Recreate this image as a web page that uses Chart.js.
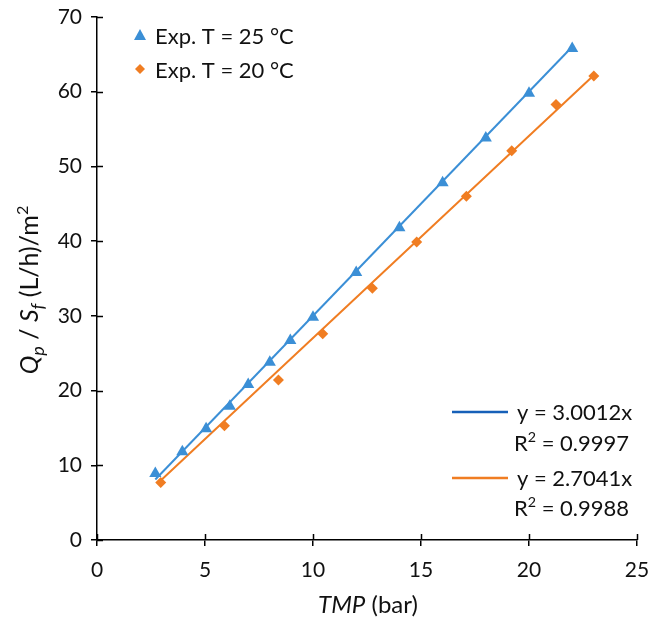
<!DOCTYPE html>
<html lang="en">
<head>
    <meta charset="UTF-8">
    <title>Flux vs TMP</title>
    <style>
        body {
            margin: 0;
            padding: 0;
            background: #fff;
        }
        #wrap {
            width: 649px;
            height: 619px;
            position: relative;
        }
    </style>
    <script src="https://cdn.jsdelivr.net/npm/chart.js"></script>
</head>
<body>
    <div id="wrap">
        <canvas id="fluxChart" width="649" height="619"></canvas>
    </div>
    <script>
        const tmp25 = [2.7, 3.95, 5.05, 6.15, 7.0, 8.0, 8.95, 10.0, 12.0, 14.0, 16.0, 18.0, 20.0, 22.0];
        const flux25 = [8.9, 11.8, 14.9, 17.9, 20.8, 23.8, 26.7, 29.8, 35.8, 41.8, 47.8, 53.8, 59.8, 65.8];
        const tmp20 = [2.95, 5.9, 8.4, 10.45, 12.75, 14.8, 17.1, 19.2, 21.25, 23.0];
        const flux20 = [7.7, 15.3, 21.4, 27.6, 33.7, 39.9, 46.0, 52.1, 58.3, 62.1];

        // Linear fits through origin, as printed on the chart
        const slope25 = 3.0012;
        const slope20 = 2.7041;
        const r2_25 = '0.9997';
        const r2_20 = '0.9988';

        const seriesLabels = ['Exp. T = 25 °C', 'Exp. T = 20 °C'];
        const xTicks = [0, 5, 10, 15, 20, 25];
        const yTicks = [0, 10, 20, 30, 40, 50, 60, 70];

        const BLUE = '#3b8fd6';
        const BLUE_DARK = '#1660b8';
        const ORANGE = '#f07d22';
        const TEXT = '#111';
        const FONT = 'Lato, "Open Sans", sans-serif';

        function toPoints(xs, ys) {
            return xs.map((x, i) => ({ x: x, y: ys[i] }));
        }
        function fitLine(xs, k) {
            const lo = Math.min(...xs), hi = Math.max(...xs);
            return [{ x: lo, y: k * lo }, { x: hi, y: k * hi }];
        }

        // draws a run of [text, style] pieces starting at x,y
        function drawRun(ctx, parts, x, y, size) {
            parts.forEach(p => {
                const s = p.sub ? size * 0.72 : p.sup ? size * 0.65 : size;
                ctx.font = (p.italic ? 'italic ' : '') + s + 'px ' + FONT;
                let dy = 0;
                if (p.sub) dy = size * 0.22;
                if (p.sup) dy = -size * 0.4;
                ctx.fillText(p.t, x, y + dy);
                x += ctx.measureText(p.t).width;
            });
        }
        function runWidth(ctx, parts, size) {
            let w = 0;
            parts.forEach(p => {
                const s = p.sub ? size * 0.72 : p.sup ? size * 0.65 : size;
                ctx.font = (p.italic ? 'italic ' : '') + s + 'px ' + FONT;
                w += ctx.measureText(p.t).width;
            });
            return w;
        }

        const decorPlugin = {
            id: 'decor',
            afterDraw(chart) {
                const ctx = chart.ctx;
                const xs = chart.scales.x, ys = chart.scales.y;
                ctx.save();
                // inner half of the cross ticks
                ctx.strokeStyle = '#000';
                ctx.lineWidth = 1.5;
                ctx.beginPath();
                xTicks.forEach(v => {
                    const px = Math.round(xs.getPixelForValue(v)) + 0.5;
                    ctx.moveTo(px, ys.bottom);
                    ctx.lineTo(px, ys.bottom - 6);
                });
                yTicks.forEach(v => {
                    const py = Math.round(ys.getPixelForValue(v)) + 0.5;
                    ctx.moveTo(xs.left, py);
                    ctx.lineTo(xs.left + 6, py);
                });
                ctx.stroke();

                ctx.fillStyle = TEXT;
                ctx.textBaseline = 'alphabetic';
                ctx.textAlign = 'left';

                // x title
                const xt = [{ t: 'TMP', italic: true }, { t: ' (bar)' }];
                const xw = runWidth(ctx, xt, 24);
                drawRun(ctx, xt, 368 - xw / 2, 613, 24);

                // y title
                const yt = [{ t: 'Q', italic: true }, { t: 'p', italic: true, sub: true }, { t: ' / ' },
                            { t: 'S', italic: true }, { t: 'f', italic: true, sub: true }, { t: ' (L/h)/m' }, { t: '2', sup: true }];
                const yw = runWidth(ctx, yt, 25);
                ctx.save();
                ctx.translate(38, 290);
                ctx.rotate(-Math.PI / 2);
                drawRun(ctx, yt, -yw / 2, 0, 25);
                ctx.restore();

                // series legend, top left
                ctx.fillStyle = BLUE;
                ctx.beginPath();
                ctx.moveTo(140, 29); ctx.lineTo(146, 40); ctx.lineTo(134, 40); ctx.closePath();
                ctx.fill();
                ctx.fillStyle = ORANGE;
                ctx.beginPath();
                ctx.moveTo(140, 64); ctx.lineTo(145, 69); ctx.lineTo(140, 74); ctx.lineTo(135, 69); ctx.closePath();
                ctx.fill();
                ctx.fillStyle = TEXT;
                ctx.font = '22px ' + FONT;
                ctx.fillText(seriesLabels[0], 155, 44);
                ctx.fillText(seriesLabels[1], 155, 78);

                // trendline legend, bottom right
                ctx.lineWidth = 2.5;
                ctx.strokeStyle = BLUE_DARK;
                ctx.beginPath(); ctx.moveTo(452, 412); ctx.lineTo(508, 412); ctx.stroke();
                ctx.strokeStyle = ORANGE;
                ctx.beginPath(); ctx.moveTo(452, 478); ctx.lineTo(508, 478); ctx.stroke();
                ctx.font = '22px ' + FONT;
                ctx.fillText('y = ' + slope25.toFixed(4) + 'x', 517, 420);
                drawRun(ctx, [{ t: 'R' }, { t: '2', sup: true }, { t: ' = ' + r2_25 }], 514, 451, 22);
                ctx.font = '22px ' + FONT;
                ctx.fillText('y = ' + slope20.toFixed(4) + 'x', 517, 486);
                drawRun(ctx, [{ t: 'R' }, { t: '2', sup: true }, { t: ' = ' + r2_20 }], 514, 516, 22);
                ctx.restore();
            }
        };

        const ctx = document.getElementById('fluxChart').getContext('2d');
        new Chart(ctx, {
            type: 'scatter',
            data: {
                datasets: [
                    {
                        label: seriesLabels[0],
                        data: toPoints(tmp25, flux25),
                        pointStyle: 'triangle',
                        pointRadius: 7,
                        backgroundColor: BLUE,
                        borderColor: BLUE,
                        borderWidth: 0,
                        order: 1
                    },
                    {
                        label: seriesLabels[1],
                        data: toPoints(tmp20, flux20),
                        pointStyle: 'rectRot',
                        pointRadius: 5.5,
                        backgroundColor: ORANGE,
                        borderColor: ORANGE,
                        borderWidth: 0,
                        order: 1
                    },
                    {
                        label: 'fit 25',
                        type: 'line',
                        data: fitLine(tmp25, slope25),
                        borderColor: BLUE,
                        borderWidth: 2,
                        pointRadius: 0,
                        fill: false,
                        order: 2
                    },
                    {
                        label: 'fit 20',
                        type: 'line',
                        data: fitLine(tmp20, slope20),
                        borderColor: ORANGE,
                        borderWidth: 2,
                        pointRadius: 0,
                        fill: false,
                        order: 2
                    }
                ]
            },
            options: {
                responsive: false,
                animation: false,
                layout: { padding: { top: 17, right: 12, left: 0, bottom: 0 } },
                plugins: {
                    legend: { display: false },
                    tooltip: { enabled: false }
                },
                scales: {
                    x: {
                        type: 'linear',
                        min: 0,
                        max: 25,
                        afterFit: s => { s.height = 79; s.paddingLeft = 0; s.paddingRight = 0; },
                        afterBuildTicks: s => { s.ticks = xTicks.map(v => ({ value: v })); },
                        grid: { drawOnChartArea: false, drawTicks: true, tickLength: 6, color: '#000', lineWidth: 1.5 },
                        border: { color: '#000', width: 1.5 },
                        ticks: { color: TEXT, font: { family: FONT, size: 21 }, padding: 12, maxRotation: 0 }
                    },
                    y: {
                        type: 'linear',
                        min: 0,
                        max: 70,
                        afterFit: s => { s.width = 97; s.paddingTop = 0; s.paddingBottom = 0; },
                        afterBuildTicks: s => { s.ticks = yTicks.map(v => ({ value: v })); },
                        grid: { drawOnChartArea: false, drawTicks: true, tickLength: 6, color: '#000', lineWidth: 1.5 },
                        border: { color: '#000', width: 1.5 },
                        ticks: { color: TEXT, font: { family: FONT, size: 21 }, padding: 9 }
                    }
                }
            },
            plugins: [decorPlugin]
        });
    </script>
</body>
</html>
